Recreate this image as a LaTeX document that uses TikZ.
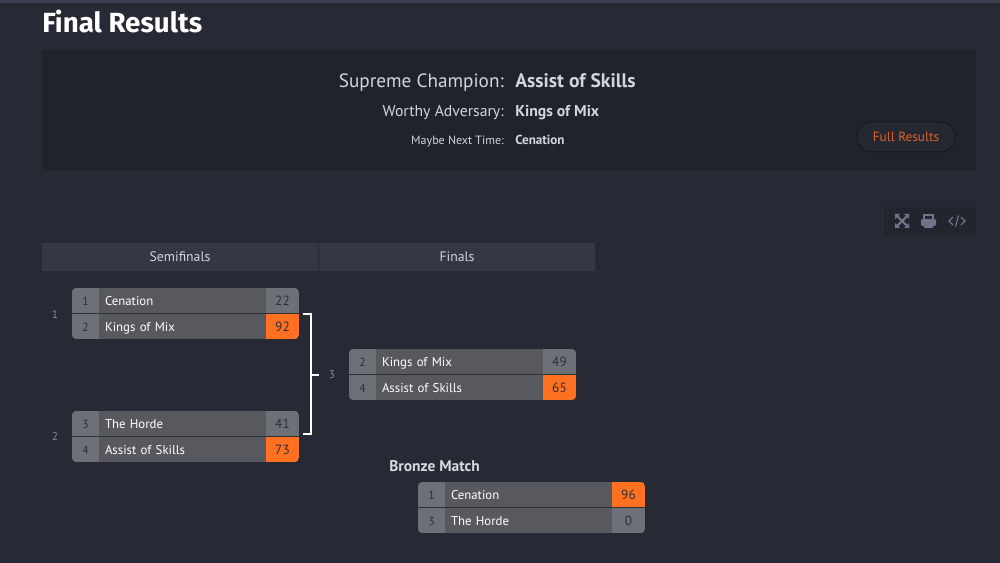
\documentclass[tikz,border=0pt]{standalone}
\usepackage{fontspec}
\setmainfont{PT Sans}
\newfontfamily\titlefont{Fira Sans}
\definecolor{pagebg}{HTML}{272A34}
\definecolor{topbar}{HTML}{3B4050}
\definecolor{panelbg}{HTML}{21232B}
\definecolor{headbg}{HTML}{343846}
\definecolor{iconbg}{HTML}{23252E}
\definecolor{iconfg}{HTML}{6F7589}
\definecolor{cellgrey}{HTML}{6E7078}
\definecolor{namegrey}{HTML}{58595F}
\definecolor{hot}{HTML}{FF7020}
\definecolor{ink}{HTML}{2E3037}
\definecolor{labgrey}{HTML}{D2D5DC}
\definecolor{roundgrey}{HTML}{858892}
\definecolor{fullres}{HTML}{DC6229}
\tikzset{
  x=0.75pt,y=-0.75pt,
  cell/.style={inner sep=0pt,outer sep=0pt,minimum height=25pt*0.75,anchor=north west,text height=7.8pt,text depth=0.8pt,font=\fontsize{10pt}{12pt}\selectfont},
  seedcell/.style={cell,fill=cellgrey,minimum width=27*0.75pt,text=ink,font=\fontsize{8.8pt}{11pt}\selectfont},
  namecell/.style={cell,fill=namegrey,minimum width=167*0.75pt,text=white,text width=155*0.75pt,align=left,font=\fontsize{9.6pt}{12pt}\selectfont},
  scorecell/.style={cell,minimum width=33*0.75pt,text=ink},
  roundlab/.style={text=roundgrey,inner sep=0pt,font=\fontsize{8.5pt}{10pt}\selectfont},
  headcell/.style={fill=headbg,minimum height=28*0.75pt,inner sep=0pt,outer sep=0pt,text=labgrey,font=\fontsize{10.3pt}{12pt}\selectfont},
  resl/.style={anchor=base east,inner sep=0pt,text=labgrey},
  resv/.style={anchor=base west,inner sep=0pt,text=labgrey,font=\bfseries},
  wire/.style={draw=white,line width=1.5pt*0.75},
  icon/.style={draw=iconfg,line width=1.5*0.75pt}
}
\newcommand{\matchbox}[8]{%
  \begin{scope}
    \clip[rounded corners=3pt] (#2,#3) rectangle ++(227,51);
    \node[seedcell] (#1sa) at (#2,#3) {#4};
    \node[namecell] (#1na) at (#2+27,#3) {#5};
    \node[scorecell,fill=#7] (#1ca) at (#2+194,#3) {#6};
    \matchrowb{#1}{#2}{#3}{#8}%
  \end{scope}}
\newcommand{\matchrowb}[4]{\matchrowc{#1}{#2}{#3}#4}
\newcommand{\matchrowc}[7]{%
    \node[seedcell] (#1sb) at (#2,#3+26) {#4};
    \node[namecell] (#1nb) at (#2+27,#3+26) {#5};
    \node[scorecell,fill=#7] (#1cb) at (#2+194,#3+26) {#6};
    \fill[ink] (#2,#3+25) rectangle ++(227,1.2);
}
\begin{document}
\begin{tikzpicture}
\useasboundingbox (0,0) rectangle (1000,563);
\fill[pagebg] (0,0) rectangle (1000,563);
\fill[topbar] (0,0) rectangle (1000,3);
\node[anchor=base west,inner sep=0pt,text=white,font=\titlefont\bfseries\fontsize{20.8pt}{24pt}\selectfont] (title) at (42,33) {Final Results};
\fill[panelbg] (42,50) rectangle (976,171);
\node[resl,font=\fontsize{14.4pt}{17pt}\selectfont] (l1) at (504,88) {Supreme Champion:};
\node[resv,font=\bfseries\fontsize{14.7pt}{17pt}\selectfont] (v1) at (515,88) {Assist of Skills};
\node[resl,font=\fontsize{11.8pt}{14pt}\selectfont] (l2) at (504,117) {Worthy Adversary:};
\node[resv,font=\bfseries\fontsize{11.8pt}{14pt}\selectfont] (v2) at (515,117) {Kings of Mix};
\node[resl,font=\fontsize{9pt}{11pt}\selectfont] (l3) at (504,145) {Maybe Next Time:};
\node[resv,font=\bfseries\fontsize{9.8pt}{11pt}\selectfont] (v3) at (515,144.5) {Cenation};
\node[draw=panelbg!75!black,fill=pagebg!70!panelbg,line width=0.75pt,rounded corners=11pt,minimum width=98*0.75pt,minimum height=30*0.75pt,inner sep=0pt,text=fullres,font=\fontsize{10pt}{12pt}\selectfont] (full) at (906,137) {Full Results};
% tool icons
\fill[iconbg] (884,207) rectangle (976,235);
\draw[icon,line width=1.6pt] (897,216) -- (907,226) (907,216) -- (897,226);
\fill[iconfg] (895,214) -- (900,214) -- (895,219) -- cycle (909,214) -- (904,214) -- (909,219) -- cycle
 (895,228) -- (900,228) -- (895,223) -- cycle (909,228) -- (904,228) -- (909,223) -- cycle;
\fill[iconfg,rounded corners=1pt] (921,219) rectangle (936,226);
\draw[icon] (924,219) -- (924,215) -- (933,215) -- (933,219);
\fill[iconfg] (924,225) rectangle (933,228);
\draw[icon,line width=0.9pt] (953,217) -- (949,221) -- (953,225) (961,217) -- (965,221) -- (961,225) (958.5,215.5) -- (955.5,226.5);
% round headers
\node[headcell,minimum width=276*0.75pt,anchor=north west] (semi) at (42,243) {Semifinals};
\node[headcell,minimum width=276*0.75pt,anchor=north west] (fin) at (319,243) {Finals};
% matches
\matchbox{ma}{72}{288}{1}{Cenation}{22}{cellgrey}{{2}{Kings of Mix}{92}{hot}}
\matchbox{mb}{72}{411}{3}{The Horde}{41}{cellgrey}{{4}{Assist of Skills}{73}{hot}}
\matchbox{mc}{349}{349}{2}{Kings of Mix}{49}{cellgrey}{{4}{Assist of Skills}{65}{hot}}
\matchbox{md}{418}{482}{1}{Cenation}{96}{hot}{{3}{The Horde}{0}{cellgrey}}
% round labels
\node[roundlab] (r1) at (55,314) {1};
\node[roundlab] (r2) at (55,436) {2};
\node[roundlab] (r3) at (332,375) {3};
% bracket
\coordinate (ba) at (303,314);
\coordinate (bb) at (303,434);
\coordinate (bj) at (311,375);
\coordinate (bo) at (319,375);
\draw[wire] (ba) -| (bj) |- (bb);
\draw[wire] (bj) -- (bo);
\node[anchor=base west,inner sep=0pt,text=labgrey!90!white,font=\bfseries\fontsize{11.6pt}{13pt}\selectfont] (bronze) at (389,471) {Bronze Match};
\end{tikzpicture}
\end{document}
